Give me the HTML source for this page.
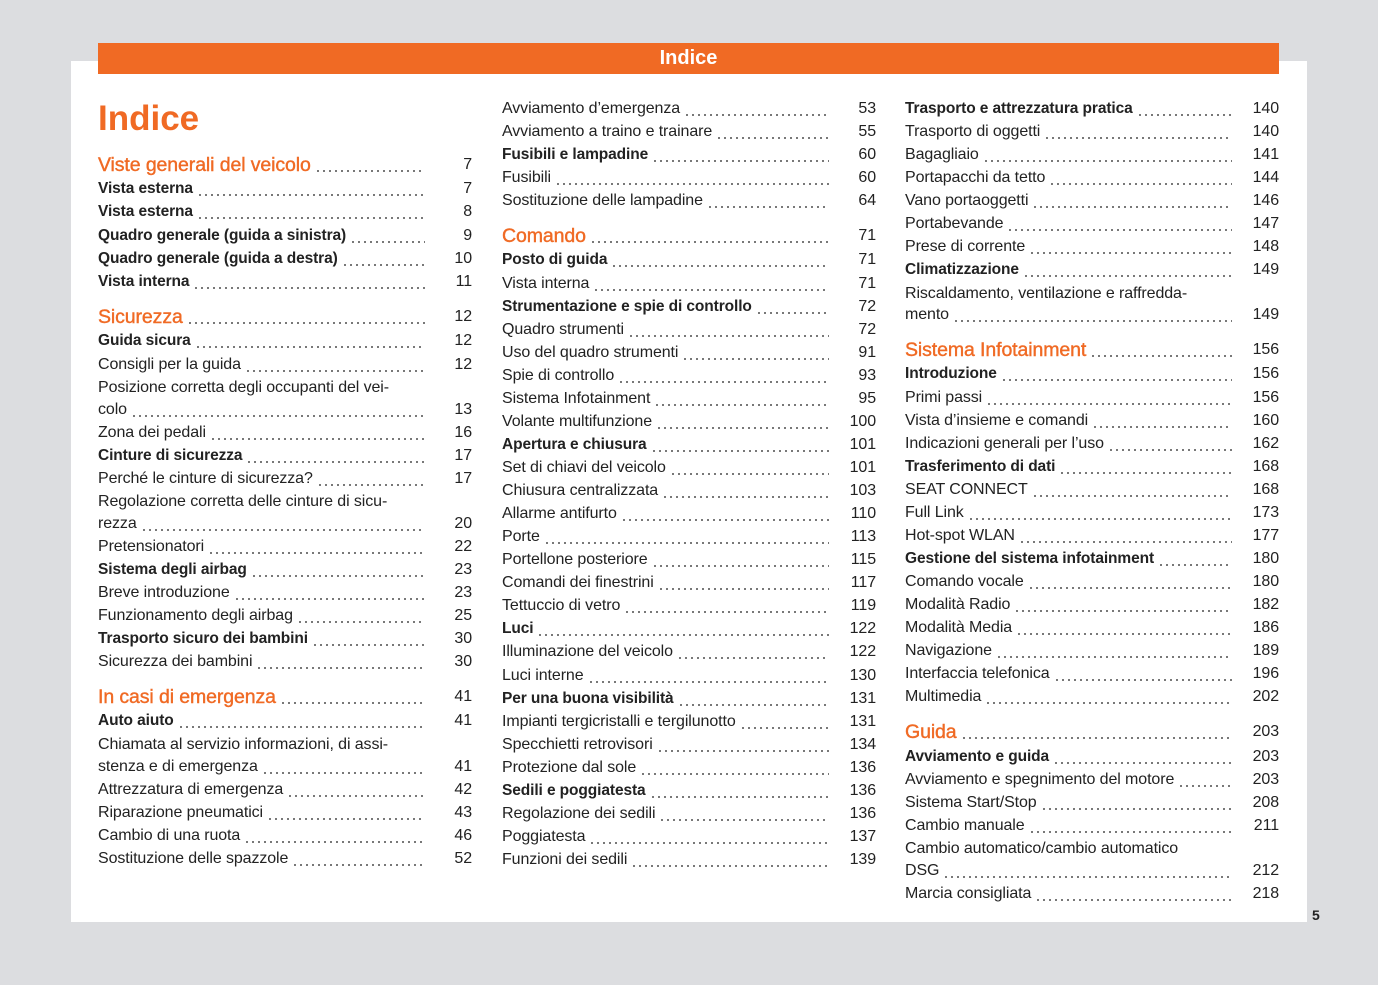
<!DOCTYPE html>
<html><head><meta charset="utf-8"><style>
body{margin:0;width:1378px;height:985px;background:#dcdde0;position:relative;overflow:hidden;font-family:"Liberation Sans",sans-serif;color:#222}
.page{position:absolute;left:71px;top:61px;width:1236px;height:861px;background:#fff}
.bar{position:absolute;left:98px;top:43px;width:1181px;height:31px;background:#f06a24;color:#fff;font-size:20px;font-weight:bold;text-align:center;line-height:31px}
.title{position:absolute;left:98px;top:97px;font-size:35px;font-weight:bold;color:#f06a24;line-height:44px}
.col{position:absolute;top:1px}
.c1{left:98px;width:374px}.c2{left:502px;width:374px}.c3{left:905px;width:374px}
.e{position:absolute;left:0;right:0;height:22px;line-height:22px;display:flex;font-size:16px;white-space:nowrap;letter-spacing:-0.1px}
.e span{flex:none}
.e i{flex:1;margin:0 3px 0 4px;background-image:radial-gradient(circle,#444 0.75px,transparent 1.1px);background-size:6px 4px;background-repeat:repeat-x;background-position:left bottom 3px}
.e em{font-style:normal;width:44px;text-align:right;flex:none}
.b span{font-weight:bold;font-size:15.5px}
.h span{color:#f06a24;font-size:19.5px;-webkit-text-stroke:0.4px #f06a24}
.n i,.n em{display:none}
.pn{position:absolute;left:1312px;top:907px;font-size:14px;font-weight:bold}
</style></head><body>
<div class="page"></div>
<div class="bar">Indice</div>
<div class="title">Indice</div>
<div class="col c1">
<div class="e h" style="top:153px"><span>Viste generali del veicolo</span><i></i><em>7</em></div>
<div class="e b" style="top:177px"><span>Vista esterna</span><i></i><em>7</em></div>
<div class="e b" style="top:200px"><span>Vista esterna</span><i></i><em>8</em></div>
<div class="e b" style="top:224px"><span>Quadro generale (guida a sinistra)</span><i></i><em>9</em></div>
<div class="e b" style="top:247px"><span>Quadro generale (guida a destra)</span><i></i><em>10</em></div>
<div class="e b" style="top:270px"><span>Vista interna</span><i></i><em>11</em></div>
<div class="e h" style="top:305px"><span>Sicurezza</span><i></i><em>12</em></div>
<div class="e b" style="top:329px"><span>Guida sicura</span><i></i><em>12</em></div>
<div class="e" style="top:353px"><span>Consigli per la guida</span><i></i><em>12</em></div>
<div class="e n" style="top:376px"><span>Posizione corretta degli occupanti del vei-</span><i></i><em></em></div>
<div class="e" style="top:398px"><span>colo</span><i></i><em>13</em></div>
<div class="e" style="top:421px"><span>Zona dei pedali</span><i></i><em>16</em></div>
<div class="e b" style="top:444px"><span>Cinture di sicurezza</span><i></i><em>17</em></div>
<div class="e" style="top:467px"><span>Perché le cinture di sicurezza?</span><i></i><em>17</em></div>
<div class="e n" style="top:490px"><span>Regolazione corretta delle cinture di sicu-</span><i></i><em></em></div>
<div class="e" style="top:512px"><span>rezza</span><i></i><em>20</em></div>
<div class="e" style="top:535px"><span>Pretensionatori</span><i></i><em>22</em></div>
<div class="e b" style="top:558px"><span>Sistema degli airbag</span><i></i><em>23</em></div>
<div class="e" style="top:581px"><span>Breve introduzione</span><i></i><em>23</em></div>
<div class="e" style="top:604px"><span>Funzionamento degli airbag</span><i></i><em>25</em></div>
<div class="e b" style="top:627px"><span>Trasporto sicuro dei bambini</span><i></i><em>30</em></div>
<div class="e" style="top:650px"><span>Sicurezza dei bambini</span><i></i><em>30</em></div>
<div class="e h" style="top:685px"><span>In casi di emergenza</span><i></i><em>41</em></div>
<div class="e b" style="top:709px"><span>Auto aiuto</span><i></i><em>41</em></div>
<div class="e n" style="top:733px"><span>Chiamata al servizio informazioni, di assi-</span><i></i><em></em></div>
<div class="e" style="top:755px"><span>stenza e di emergenza</span><i></i><em>41</em></div>
<div class="e" style="top:778px"><span>Attrezzatura di emergenza</span><i></i><em>42</em></div>
<div class="e" style="top:801px"><span>Riparazione pneumatici</span><i></i><em>43</em></div>
<div class="e" style="top:824px"><span>Cambio di una ruota</span><i></i><em>46</em></div>
<div class="e" style="top:847px"><span>Sostituzione delle spazzole</span><i></i><em>52</em></div>
</div>
<div class="col c2">
<div class="e" style="top:97px"><span>Avviamento d’emergenza</span><i></i><em>53</em></div>
<div class="e" style="top:120px"><span>Avviamento a traino e trainare</span><i></i><em>55</em></div>
<div class="e b" style="top:143px"><span>Fusibili e lampadine</span><i></i><em>60</em></div>
<div class="e" style="top:166px"><span>Fusibili</span><i></i><em>60</em></div>
<div class="e" style="top:189px"><span>Sostituzione delle lampadine</span><i></i><em>64</em></div>
<div class="e h" style="top:224px"><span>Comando</span><i></i><em>71</em></div>
<div class="e b" style="top:248px"><span>Posto di guida</span><i></i><em>71</em></div>
<div class="e" style="top:272px"><span>Vista interna</span><i></i><em>71</em></div>
<div class="e b" style="top:295px"><span>Strumentazione e spie di controllo</span><i></i><em>72</em></div>
<div class="e" style="top:318px"><span>Quadro strumenti</span><i></i><em>72</em></div>
<div class="e" style="top:341px"><span>Uso del quadro strumenti</span><i></i><em>91</em></div>
<div class="e" style="top:364px"><span>Spie di controllo</span><i></i><em>93</em></div>
<div class="e" style="top:387px"><span>Sistema Infotainment</span><i></i><em>95</em></div>
<div class="e" style="top:410px"><span>Volante multifunzione</span><i></i><em>100</em></div>
<div class="e b" style="top:433px"><span>Apertura e chiusura</span><i></i><em>101</em></div>
<div class="e" style="top:456px"><span>Set di chiavi del veicolo</span><i></i><em>101</em></div>
<div class="e" style="top:479px"><span>Chiusura centralizzata</span><i></i><em>103</em></div>
<div class="e" style="top:502px"><span>Allarme antifurto</span><i></i><em>110</em></div>
<div class="e" style="top:525px"><span>Porte</span><i></i><em>113</em></div>
<div class="e" style="top:548px"><span>Portellone posteriore</span><i></i><em>115</em></div>
<div class="e" style="top:571px"><span>Comandi dei finestrini</span><i></i><em>117</em></div>
<div class="e" style="top:594px"><span>Tettuccio di vetro</span><i></i><em>119</em></div>
<div class="e b" style="top:617px"><span>Luci</span><i></i><em>122</em></div>
<div class="e" style="top:640px"><span>Illuminazione del veicolo</span><i></i><em>122</em></div>
<div class="e" style="top:664px"><span>Luci interne</span><i></i><em>130</em></div>
<div class="e b" style="top:687px"><span>Per una buona visibilità</span><i></i><em>131</em></div>
<div class="e" style="top:710px"><span>Impianti tergicristalli e tergilunotto</span><i></i><em>131</em></div>
<div class="e" style="top:733px"><span>Specchietti retrovisori</span><i></i><em>134</em></div>
<div class="e" style="top:756px"><span>Protezione dal sole</span><i></i><em>136</em></div>
<div class="e b" style="top:779px"><span>Sedili e poggiatesta</span><i></i><em>136</em></div>
<div class="e" style="top:802px"><span>Regolazione dei sedili</span><i></i><em>136</em></div>
<div class="e" style="top:825px"><span>Poggiatesta</span><i></i><em>137</em></div>
<div class="e" style="top:848px"><span>Funzioni dei sedili</span><i></i><em>139</em></div>
</div>
<div class="col c3">
<div class="e b" style="top:97px"><span>Trasporto e attrezzatura pratica</span><i></i><em>140</em></div>
<div class="e" style="top:120px"><span>Trasporto di oggetti</span><i></i><em>140</em></div>
<div class="e" style="top:143px"><span>Bagagliaio</span><i></i><em>141</em></div>
<div class="e" style="top:166px"><span>Portapacchi da tetto</span><i></i><em>144</em></div>
<div class="e" style="top:189px"><span>Vano portaoggetti</span><i></i><em>146</em></div>
<div class="e" style="top:212px"><span>Portabevande</span><i></i><em>147</em></div>
<div class="e" style="top:235px"><span>Prese di corrente</span><i></i><em>148</em></div>
<div class="e b" style="top:258px"><span>Climatizzazione</span><i></i><em>149</em></div>
<div class="e n" style="top:282px"><span>Riscaldamento, ventilazione e raffredda-</span><i></i><em></em></div>
<div class="e" style="top:303px"><span>mento</span><i></i><em>149</em></div>
<div class="e h" style="top:338px"><span>Sistema Infotainment</span><i></i><em>156</em></div>
<div class="e b" style="top:362px"><span>Introduzione</span><i></i><em>156</em></div>
<div class="e" style="top:386px"><span>Primi passi</span><i></i><em>156</em></div>
<div class="e" style="top:409px"><span>Vista d’insieme e comandi</span><i></i><em>160</em></div>
<div class="e" style="top:432px"><span>Indicazioni generali per l’uso</span><i></i><em>162</em></div>
<div class="e b" style="top:455px"><span>Trasferimento di dati</span><i></i><em>168</em></div>
<div class="e" style="top:478px"><span>SEAT CONNECT</span><i></i><em>168</em></div>
<div class="e" style="top:501px"><span>Full Link</span><i></i><em>173</em></div>
<div class="e" style="top:524px"><span>Hot-spot WLAN</span><i></i><em>177</em></div>
<div class="e b" style="top:547px"><span>Gestione del sistema infotainment</span><i></i><em>180</em></div>
<div class="e" style="top:570px"><span>Comando vocale</span><i></i><em>180</em></div>
<div class="e" style="top:593px"><span>Modalità Radio</span><i></i><em>182</em></div>
<div class="e" style="top:616px"><span>Modalità Media</span><i></i><em>186</em></div>
<div class="e" style="top:639px"><span>Navigazione</span><i></i><em>189</em></div>
<div class="e" style="top:662px"><span>Interfaccia telefonica</span><i></i><em>196</em></div>
<div class="e" style="top:685px"><span>Multimedia</span><i></i><em>202</em></div>
<div class="e h" style="top:720px"><span>Guida</span><i></i><em>203</em></div>
<div class="e b" style="top:745px"><span>Avviamento e guida</span><i></i><em>203</em></div>
<div class="e" style="top:768px"><span>Avviamento e spegnimento del motore</span><i></i><em>203</em></div>
<div class="e" style="top:791px"><span>Sistema Start/Stop</span><i></i><em>208</em></div>
<div class="e" style="top:814px"><span>Cambio manuale</span><i></i><em>211</em></div>
<div class="e n" style="top:837px"><span>Cambio automatico/cambio automatico</span><i></i><em></em></div>
<div class="e" style="top:859px"><span>DSG</span><i></i><em>212</em></div>
<div class="e" style="top:882px"><span>Marcia consigliata</span><i></i><em>218</em></div>
</div>
<div class="pn">5</div>
</body></html>
